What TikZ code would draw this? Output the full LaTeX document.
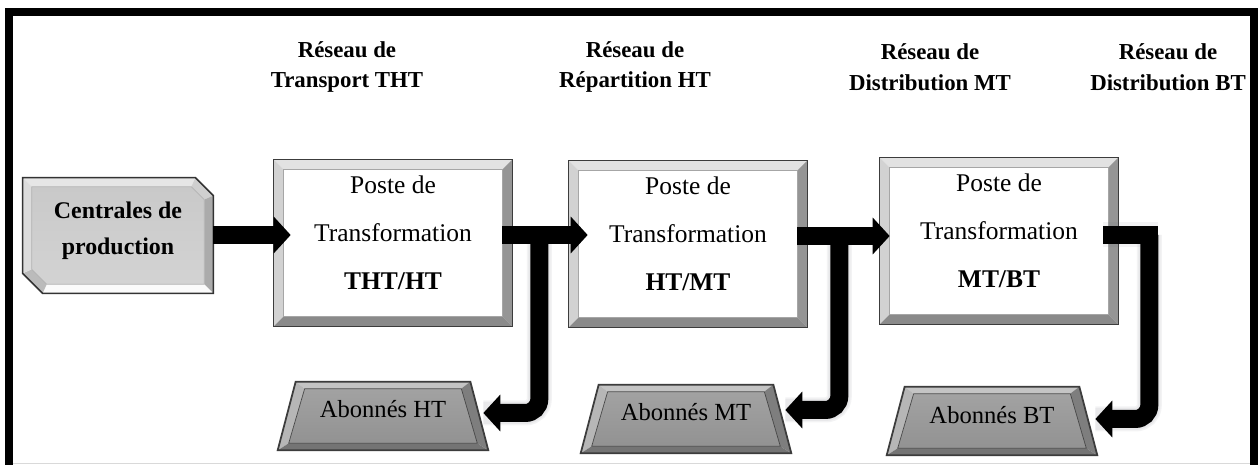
\documentclass[tikz,border=0pt]{standalone}
\usepackage{fontspec}
\setmainfont{Liberation Serif}
\usetikzlibrary{calc,arrows.meta}
\definecolor{edgec}{HTML}{3C3C3C}
\definecolor{bvtop}{HTML}{E2E2E2}
\definecolor{bvleft}{HTML}{D2D2D2}
\definecolor{bvright}{HTML}{959595}
\definecolor{bvbot}{HTML}{8A8A8A}
\definecolor{cface}{HTML}{D3D3D3}
\definecolor{cfacetop}{HTML}{C9C9C9}
\definecolor{ctop}{HTML}{E6E6E6}
\definecolor{cleft}{HTML}{DCDCDC}
\definecolor{cright}{HTML}{ABABAB}
\definecolor{cbot}{HTML}{FBFBFB}
\definecolor{aface}{HTML}{A2A2A2}
\definecolor{afacebot}{HTML}{929292}
\definecolor{atop}{HTML}{C4C4C4}
\definecolor{aleft}{HTML}{B6B6B6}
\definecolor{aright}{HTML}{7E7E7E}
\definecolor{abot}{HTML}{747474}
\definecolor{shadowc}{HTML}{5A6070}

\newcommand\bevrect[1]{%
  \coordinate (P1) at (#1.north west);
  \coordinate (P2) at (#1.north east);
  \coordinate (P3) at (#1.south east);
  \coordinate (P4) at (#1.south west);
  \coordinate (Q1) at ($(P1)+(10,10)$);
  \coordinate (Q2) at ($(P2)+(-10,10)$);
  \coordinate (Q3) at ($(P3)+(-10,-10)$);
  \coordinate (Q4) at ($(P4)+(10,-10)$);
  \fill[white] (Q1) rectangle (Q3);
  \fill[bvtop] (P1)--(P2)--(Q2)--(Q1)--cycle;
  \fill[bvleft] (P1)--(Q1)--(Q4)--(P4)--cycle;
  \fill[bvright] (P2)--(P3)--(Q3)--(Q2)--cycle;
  \fill[bvbot] (P4)--(P3)--(Q3)--(Q4)--cycle;
  \draw[gray!70,line width=0.4pt] (Q1) rectangle (Q3);
  \draw[edgec,line width=0.9pt] (P1) rectangle (P3);
}
\newcommand\bevtrap[1]{%
  \coordinate (T1) at ($(#1.north west)+(9,0)$);
  \coordinate (T2) at ($(#1.north east)+(-9,0)$);
  \coordinate (T3) at ($(#1.south east)+(9,0)$);
  \coordinate (T4) at ($(#1.south west)+(-9,0)$);
  \coordinate (U1) at ($(T1)+(9,7)$);
  \coordinate (U2) at ($(T2)+(-9,7)$);
  \coordinate (U3) at ($(T3)+(-11,-7)$);
  \coordinate (U4) at ($(T4)+(11,-7)$);
  \shade[top color=aface,bottom color=afacebot] (U1)--(U2)--(U3)--(U4)--cycle;
  \fill[atop] (T1)--(T2)--(U2)--(U1)--cycle;
  \fill[aleft] (T1)--(U1)--(U4)--(T4)--cycle;
  \fill[aright] (T2)--(T3)--(U3)--(U2)--cycle;
  \fill[abot] (T4)--(T3)--(U3)--(U4)--cycle;
  \draw[gray!55!black,line width=0.4pt] (U1)--(U2)--(U3)--(U4)--cycle;
  \draw[edgec,line width=1pt] (T1)--(T2)--(T3)--(T4)--cycle;
}

\begin{document}
\begin{tikzpicture}[x=0.02cm,y=-0.02cm,line join=miter,
  boxn/.style={minimum width=4.76cm,minimum height=3.32cm,inner sep=0pt},
  boxt/.style={align=center,font=\fontsize{14.5}{27.2}\selectfont},
  hdr/.style={align=center,font=\bfseries\fontsize{13}{17.6}\selectfont},
  cpn/.style={minimum width=3.8cm,minimum height=2.3cm,inner sep=0pt},
  cpt/.style={align=center,font=\bfseries\fontsize{13.6}{20.4}\selectfont},
  abn/.style={minimum width=3.84cm,minimum height=1.36cm,inner sep=0pt},
  abt/.style={font=\fontsize{14}{16}\selectfont},
  fat/.style={line width=0.36cm,-{Triangle[length=0.34cm,width=0.72cm]}},
  bar/.style={line width=0.36cm},
  shd/.style={line width=0.5cm,draw=shadowc,opacity=0.07}]

\useasboundingbox (0,0) rectangle (1259,465);
\fill[white] (0,0) rectangle (1259,465);

% frame
\draw[line width=0.16cm] (9,465) -- (9,12.5) -- (1254,12.5) -- (1254,465);
\draw[gray!30,line width=0.5pt] (13,463) -- (1250,463);

% headers
\node[hdr] (h1) at (347,67) {Réseau de\\Transport THT};
\node[hdr] (h2) at (635,67) {Réseau de\\Répartition HT};
\node[hdr] (h3) at (930,67) {Réseau de\\Distribution MT};
\node[hdr] (h4) at (1168,67) {Réseau de\\Distribution BT};

% geometry nodes
\node[cpn] (cp) at (118,235.5) {};
\node[boxn] (b1) at (393,243) {};
\node[boxn] (b2) at (688,244) {};
\node[boxn] (b3) at (999,241) {};
\node[abn] (a1) at (383,416) {};
\node[abn] (a2) at (686,419) {};
\node[abn] (a3) at (992,421) {};

% Centrales de production shape
\coordinate (C1) at (cp.north west);
\coordinate (C2) at ($(cp.north east)+(-18,0)$);
\coordinate (C3) at ($(cp.north east)+(0,18)$);
\coordinate (C4) at (cp.south east);
\coordinate (C5) at ($(cp.south west)+(20,0)$);
\coordinate (C6) at ($(cp.south west)+(0,-20)$);
\coordinate (D1) at ($(C1)+(9,9)$);
\coordinate (D2) at ($(C2)+(-4,9)$);
\coordinate (D3) at ($(C3)+(-9,4)$);
\coordinate (D4) at ($(C4)+(-9,-9)$);
\coordinate (D5) at ($(C5)+(4,-9)$);
\coordinate (D6) at ($(C6)+(9,-4)$);
\shade[top color=cfacetop,bottom color=cface] (D1)--(D2)--(D3)--(D4)--(D5)--(D6)--cycle;
\fill[ctop] (C1)--(C2)--(D2)--(D1)--cycle;
\fill[ctop!90!black] (C2)--(C3)--(D3)--(D2)--cycle;
\fill[cright] (C3)--(C4)--(D4)--(D3)--cycle;
\fill[cbot] (C4)--(C5)--(D5)--(D4)--cycle;
\fill[cleft!85!black] (C5)--(C6)--(D6)--(D5)--cycle;
\fill[cleft] (C6)--(C1)--(D1)--(D6)--cycle;
\draw[gray!60,line width=0.4pt] (D1)--(D2)--(D3)--(D4)--(D5)--(D6)--cycle;
\draw[gray!40!black,line width=0.9pt] (C1)--(C2)--(C3)--(C4)--(C5)--(C6)--cycle;
\node[cpt] (cpt) at ($(cp)+(0,-5)$) {Centrales de\\production};

% transformer boxes
\bevrect{b1}
\bevrect{b2}
\bevrect{b3}
\node[boxt] (b1t) at ($(b1)+(0,-10)$) {Poste de\\Transformation\\\textbf{THT/HT}};
\node[boxt] (b2t) at ($(b2)+(0,-10)$) {Poste de\\Transformation\\\textbf{HT/MT}};
\node[boxt] (b3t) at ($(b3)+(0,-10)$) {Poste de\\Transformation\\\textbf{MT/BT}};

% subscriber trapezoids
\bevtrap{a1}
\bevtrap{a2}
\bevtrap{a3}
\node[abt] (a1t) at ($(a1)+(0,-7)$) {Abonnés HT};
\node[abt] (a2t) at ($(a2)+(0,-7)$) {Abonnés MT};
\node[abt] (a3t) at ($(a3)+(0,-6)$) {Abonnés BT};

% connector coordinates
\coordinate (t1) at ($(b1.west)+(17,-8)$);
\coordinate (s2) at ($(b1.east)+(-10,-8)$);
\coordinate (t2) at ($(b2.west)+(19,-9)$);
\coordinate (v2) at ($(b1.east)+(27,-8)$);
\coordinate (e2) at ($(a1.east)+(4,-3)$);
\coordinate (s3) at ($(b2.east)+(-10,-8)$);
\coordinate (t3) at ($(b3.west)+(10,-5)$);
\coordinate (v3) at ($(b2.east)+(32,-8)$);
\coordinate (e3) at ($(a2.east)+(3,-9)$);
\coordinate (s4) at ($(b3.east)+(-15,-6)$);
\coordinate (k4) at ($(b3.east)+(40,-6)$);
\coordinate (v4) at ($(b3.east)+(31,-6)$);
\coordinate (e4) at ($(a3.east)+(7,-2)$);

% shadows
\begin{scope}[shift={(6,6)}]
  \draw[shd,rounded corners=0.28cm] (v2) -- (v2 |- e2) -- (e2);
  \draw[shd,rounded corners=0.28cm] (v3) -- (v3 |- e3) -- (e3);
  \draw[shd,rounded corners=0.28cm] (v4) -- (v4 |- e4) -- (e4);
  \draw[shd] (s4) -- (k4);
\end{scope}
\begin{scope}[shift={(3,3)}]
  \draw[shd,line width=0.44cm,rounded corners=0.28cm] (v2) -- (v2 |- e2) -- (e2);
  \draw[shd,line width=0.44cm,rounded corners=0.28cm] (v3) -- (v3 |- e3) -- (e3);
  \draw[shd,line width=0.44cm,rounded corners=0.28cm] (v4) -- (v4 |- e4) -- (e4);
\end{scope}

% connectors
\draw[fat] (t1 -| cp.east) -- (t1);
\draw[fat] (s2) -- (t2);
\draw[fat,rounded corners=0.28cm] (v2) -- (v2 |- e2) -- (e2);
\draw[fat] (s3) -- (t3);
\draw[fat,rounded corners=0.28cm] (v3) -- (v3 |- e3) -- (e3);
\draw[bar] (s4) -- (k4);
\draw[fat,rounded corners=0.28cm] (v4) -- (v4 |- e4) -- (e4);

\end{tikzpicture}
\end{document}
